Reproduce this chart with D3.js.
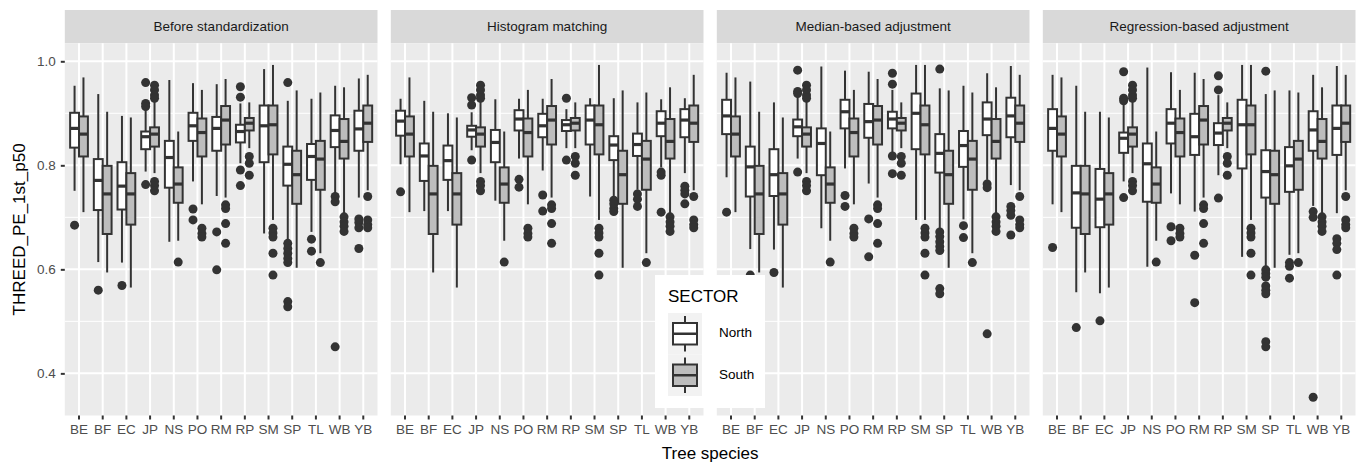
<!DOCTYPE html>
<html>
<head>
<meta charset="utf-8">
<script src="https://cdn.jsdelivr.net/npm/d3@7"></script>
<style>
  body { margin: 0; background: #fff; }
  text { font-family: "Liberation Sans", Arial, sans-serif; }
</style>
</head>
<body>
<div id="chart"></div>
<script>
const species = ["BE", "BF", "EC", "JP", "NS", "PO", "RM", "RP", "SM", "SP", "TL", "WB", "YB"]
const methods = ["Before standardization", "Histogram matching", "Median-based adjustment", "Regression-based adjustment"]
const sectors = ["North", "South"]
const yTicks = [0.4, 0.6, 0.8, 1.0]
const yMinor = [0.5, 0.7, 0.9]

// box stats per species: [lower whisker, Q1, median, Q3, upper whisker]
// South is the reference sector, unchanged in every panel
const southBoxes = [
    [0.710, 0.817, 0.860, 0.894, 0.969], [0.594, 0.668, 0.745, 0.799, 0.903],
    [0.565, 0.686, 0.745, 0.785, 0.892], [0.785, 0.836, 0.860, 0.873, 0.922],
    [0.655, 0.728, 0.764, 0.796, 0.865], [0.725, 0.817, 0.863, 0.890, 0.945],
    [0.738, 0.840, 0.887, 0.914, 0.966], [0.833, 0.867, 0.881, 0.891, 0.921],
    [0.695, 0.821, 0.878, 0.915, 0.993], [0.603, 0.726, 0.782, 0.828, 0.944],
    [0.631, 0.753, 0.812, 0.847, 0.940], [0.708, 0.813, 0.846, 0.889, 0.950],
    [0.752, 0.845, 0.881, 0.915, 0.974]
]
const southOutliers = [
    [], [], [], [0.954, 0.945, 0.935, 0.929, 0.769, 0.761, 0.751], [0.614],
    [0.679, 0.669, 0.662], [0.724, 0.717, 0.688, 0.650], [0.817, 0.804, 0.781],
    [0.679, 0.670, 0.662, 0.631, 0.589], [], [0.613], [0.701, 0.691, 0.683, 0.673],
    [0.740, 0.695, 0.686, 0.680]
]

const northBefore = [
    [0.751, 0.834, 0.871, 0.901, 0.953], [0.614, 0.714, 0.771, 0.812, 0.937],
    [0.613, 0.715, 0.760, 0.806, 0.895], [0.788, 0.831, 0.855, 0.865, 0.906],
    [0.653, 0.757, 0.815, 0.847, 0.964], [0.769, 0.847, 0.876, 0.901, 0.958],
    [0.741, 0.828, 0.871, 0.893, 0.956], [0.804, 0.844, 0.865, 0.878, 0.919],
    [0.669, 0.806, 0.876, 0.915, 0.985], [0.656, 0.761, 0.802, 0.836, 0.924],
    [0.672, 0.772, 0.817, 0.841, 0.928], [0.746, 0.835, 0.867, 0.896, 0.953],
    [0.738, 0.828, 0.870, 0.905, 0.967]
]
const northBeforeOut = [
    [0.685], [0.560], [0.569], [0.959, 0.919, 0.913, 0.763], [], [0.716, 0.695],
    [0.672, 0.599], [0.951, 0.931, 0.791, 0.761], [],
    [0.959, 0.650, 0.640, 0.631, 0.621, 0.613, 0.538, 0.528], [0.658, 0.635],
    [0.740, 0.730, 0.451], [0.697, 0.690, 0.680, 0.640]
]

const northHist = [
    [0.802, 0.857, 0.885, 0.905, 0.928], [0.712, 0.770, 0.818, 0.842, 0.924],
    [0.712, 0.772, 0.809, 0.838, 0.900], [0.829, 0.855, 0.868, 0.876, 0.902],
    [0.732, 0.806, 0.844, 0.868, 0.927], [0.813, 0.867, 0.889, 0.906, 0.928],
    [0.790, 0.854, 0.876, 0.899, 0.928], [0.833, 0.866, 0.878, 0.887, 0.908],
    [0.740, 0.840, 0.887, 0.915, 0.929], [0.740, 0.810, 0.839, 0.856, 0.929],
    [0.753, 0.818, 0.840, 0.861, 0.921], [0.796, 0.856, 0.881, 0.904, 0.927],
    [0.785, 0.854, 0.887, 0.908, 0.929]
]
const northHistOut = [
    [0.749], [], [], [0.930, 0.916, 0.810], [], [0.773, 0.758], [0.743, 0.712],
    [0.929, 0.810], [], [0.733, 0.726, 0.717, 0.711], [0.745, 0.735, 0.721],
    [0.787, 0.781, 0.710], [0.760, 0.752, 0.745, 0.726]
]

const northMedian = [
    [0.777, 0.860, 0.895, 0.926, 0.978], [0.639, 0.740, 0.797, 0.836, 0.961],
    [0.638, 0.741, 0.782, 0.831, 0.921], [0.813, 0.856, 0.874, 0.888, 0.932],
    [0.679, 0.781, 0.842, 0.871, 0.990], [0.794, 0.871, 0.903, 0.926, 0.982],
    [0.765, 0.853, 0.884, 0.918, 0.980], [0.824, 0.871, 0.889, 0.903, 0.945],
    [0.695, 0.831, 0.900, 0.938, 0.993], [0.679, 0.786, 0.823, 0.860, 0.948],
    [0.696, 0.797, 0.838, 0.866, 0.953], [0.772, 0.858, 0.889, 0.921, 0.977],
    [0.762, 0.854, 0.895, 0.930, 0.991]
]
const northMedianOut = [
    [0.710], [0.589], [0.594], [0.983, 0.942, 0.938, 0.787], [], [0.742, 0.721],
    [0.697, 0.624], [0.977, 0.956, 0.818, 0.784], [],
    [0.985, 0.672, 0.663, 0.653, 0.644, 0.636, 0.563, 0.553], [0.684, 0.661],
    [0.764, 0.757, 0.476], [0.721, 0.713, 0.704, 0.666]
]

const northRegression = [
    [0.725, 0.828, 0.871, 0.908, 0.974], [0.556, 0.680, 0.747, 0.799, 0.953],
    [0.554, 0.681, 0.735, 0.793, 0.903], [0.769, 0.824, 0.852, 0.863, 0.916],
    [0.605, 0.730, 0.803, 0.842, 0.988], [0.746, 0.842, 0.881, 0.908, 0.979],
    [0.711, 0.820, 0.855, 0.899, 0.978], [0.781, 0.839, 0.862, 0.881, 0.935],
    [0.624, 0.794, 0.878, 0.926, 0.993], [0.605, 0.738, 0.788, 0.829, 0.937],
    [0.628, 0.749, 0.799, 0.835, 0.944], [0.722, 0.828, 0.868, 0.904, 0.974],
    [0.708, 0.820, 0.871, 0.915, 0.991]
]
const northRegressionOut = [
    [0.642], [0.488], [0.501], [0.980, 0.929, 0.924, 0.738], [], [0.682, 0.655],
    [0.627, 0.536], [0.972, 0.945, 0.737], [],
    [0.981, 0.599, 0.592, 0.585, 0.568, 0.560, 0.553, 0.461, 0.451],
    [0.613, 0.606, 0.583], [0.711, 0.700, 0.354], [0.659, 0.650, 0.638, 0.589]
]

const northByMethod = [northBefore, northHist, northMedian, northRegression]
const northOutByMethod = [northBeforeOut, northHistOut, northMedianOut, northRegressionOut]

// build rows for the library
const rows = []
methods.forEach((m, mi) => {
    species.forEach((sp, si) => {
        rows.push({ method: m, species: sp, sector: "North", stats: northByMethod[mi][si], out: northOutByMethod[mi][si] })
        rows.push({ method: m, species: sp, sector: "South", stats: southBoxes[si], out: southOutliers[si] })
    })
})

const dimensions = {
    width: 1362,
    height: 463,
    panelLeft: 64.8,
    panelRight: 1355.5,
    panelTop: 43.3,
    panelBottom: 415.5,
    stripTop: 10,
}

const fill = { North: "#ffffff", South: "#bdbdbd" }
const ink = "#333333"

const svg = d3.select("#chart").append("svg")
    .attr("width", dimensions.width)
    .attr("height", dimensions.height)

const panelScale = d3.scaleBand()
    .domain(methods)
    .range([dimensions.panelLeft, dimensions.panelRight])
    .paddingInner(0.0408)

const panelW = panelScale.bandwidth()
const panelH = dimensions.panelBottom - dimensions.panelTop

const xScale = d3.scaleBand()
    .domain(species)
    .range([0, panelW])
    .paddingInner(0.25)
    .paddingOuter(0.225)

const sectorScale = d3.scaleBand()
    .domain(sectors)
    .range([0, xScale.bandwidth()])

const yScale = d3.scaleLinear()
    .domain([0.319, 1.0346])
    .range([panelH, 0])

methods.forEach(m => {
    const panel = svg.append("g")
        .attr("transform", `translate(${panelScale(m)},${dimensions.panelTop})`)

    // strip
    panel.append("rect")
        .attr("x", 0).attr("y", dimensions.stripTop - dimensions.panelTop)
        .attr("width", panelW).attr("height", dimensions.panelTop - dimensions.stripTop)
        .attr("fill", "#d9d9d9")
    panel.append("text")
        .attr("x", panelW / 2)
        .attr("y", (dimensions.stripTop - dimensions.panelTop) / 2 + 1)
        .attr("text-anchor", "middle")
        .attr("dominant-baseline", "middle")
        .attr("font-size", 13.5)
        .attr("fill", "#1a1a1a")
        .text(m)

    panel.append("rect")
        .attr("width", panelW).attr("height", panelH)
        .attr("fill", "#ebebeb")

    panel.selectAll(".minor").data(yMinor).join("line")
        .attr("x1", 0).attr("x2", panelW)
        .attr("y1", d => yScale(d)).attr("y2", d => yScale(d))
        .attr("stroke", "#fff").attr("stroke-width", 1)
    panel.selectAll(".major").data(yTicks).join("line")
        .attr("x1", 0).attr("x2", panelW)
        .attr("y1", d => yScale(d)).attr("y2", d => yScale(d))
        .attr("stroke", "#fff").attr("stroke-width", 2)
    panel.selectAll(".vgrid").data(species).join("line")
        .attr("x1", d => xScale(d) + xScale.bandwidth() / 2)
        .attr("x2", d => xScale(d) + xScale.bandwidth() / 2)
        .attr("y1", 0).attr("y2", panelH)
        .attr("stroke", "#fff").attr("stroke-width", 2)

    // x axis
    const xAxis = panel.append("g")
        .attr("transform", `translate(0,${panelH})`)
        .call(d3.axisBottom(xScale).tickSize(4).tickPadding(5))
    xAxis.select(".domain").remove()
    xAxis.selectAll("line").attr("stroke", ink).attr("stroke-width", 2)
    xAxis.selectAll("text").attr("font-size", 13.5).attr("fill", "#4d4d4d")
        .attr("font-family", "Liberation Sans, Arial, sans-serif")

    // boxes
    const boxes = panel.selectAll(".box")
        .data(rows.filter(r => r.method === m))
        .join("g")
        .attr("transform", d => `translate(${xScale(d.species) + sectorScale(d.sector)},0)`)

    const bw = sectorScale.bandwidth()
    boxes.append("line")
        .attr("x1", bw / 2).attr("x2", bw / 2)
        .attr("y1", d => yScale(d.stats[4])).attr("y2", d => yScale(d.stats[3]))
        .attr("stroke", ink).attr("stroke-width", 2)
    boxes.append("line")
        .attr("x1", bw / 2).attr("x2", bw / 2)
        .attr("y1", d => yScale(d.stats[1])).attr("y2", d => yScale(d.stats[0]))
        .attr("stroke", ink).attr("stroke-width", 2)
    boxes.append("rect")
        .attr("x", 0).attr("width", bw)
        .attr("y", d => yScale(d.stats[3]))
        .attr("height", d => yScale(d.stats[1]) - yScale(d.stats[3]))
        .attr("fill", d => fill[d.sector])
        .attr("stroke", ink).attr("stroke-width", 2)
    boxes.append("line")
        .attr("x1", 0).attr("x2", bw)
        .attr("y1", d => yScale(d.stats[2])).attr("y2", d => yScale(d.stats[2]))
        .attr("stroke", ink).attr("stroke-width", 3.2)
    boxes.selectAll("circle")
        .data(d => d.out)
        .join("circle")
        .attr("cx", bw / 2)
        .attr("cy", d => yScale(d))
        .attr("r", 4.5)
        .attr("fill", ink)
})

// y axis on the first panel
const yAxis = svg.append("g")
    .attr("transform", `translate(${dimensions.panelLeft},${dimensions.panelTop})`)
    .call(d3.axisLeft(yScale).tickValues(yTicks).tickFormat(d3.format(".1f")).tickSize(4).tickPadding(5))
yAxis.select(".domain").remove()
yAxis.selectAll("line").attr("stroke", ink).attr("stroke-width", 2)
yAxis.selectAll("text").attr("font-size", 13.5).attr("fill", "#4d4d4d")
    .attr("font-family", "Liberation Sans, Arial, sans-serif")

// axis titles
svg.append("text")
    .attr("x", (dimensions.panelLeft + dimensions.panelRight) / 2)
    .attr("y", 459)
    .attr("text-anchor", "middle")
    .attr("font-size", 17)
    .attr("fill", "#000")
    .text("Tree species")

svg.append("text")
    .attr("transform", `translate(25,${(dimensions.panelTop + dimensions.panelBottom) / 2}) rotate(-90)`)
    .attr("text-anchor", "middle")
    .attr("font-size", 17)
    .attr("fill", "#000")
    .text("THREED_PE_1st_p50")

// legend
const legend = svg.append("g").attr("transform", "translate(655,275)")
legend.append("rect").attr("width", 110).attr("height", 133).attr("fill", "#fff")
legend.append("text")
    .attr("x", 13).attr("y", 27)
    .attr("font-size", 17).attr("fill", "#000")
    .text("SECTOR")
const keys = legend.selectAll(".key").data(sectors).join("g")
    .attr("transform", (d, i) => `translate(13,${38 + i * 41.5})`)
keys.append("rect").attr("width", 34).attr("height", 41.5).attr("fill", "#f2f2f2")
keys.append("line")
    .attr("x1", 17).attr("x2", 17).attr("y1", 3).attr("y2", 38.5)
    .attr("stroke", ink).attr("stroke-width", 2)
keys.append("rect")
    .attr("x", 5).attr("y", 10).attr("width", 24).attr("height", 21.5)
    .attr("fill", d => fill[d]).attr("stroke", ink).attr("stroke-width", 2)
keys.append("line")
    .attr("x1", 5).attr("x2", 29).attr("y1", 20.75).attr("y2", 20.75)
    .attr("stroke", ink).attr("stroke-width", 2.5)
keys.append("text")
    .attr("x", 51).attr("y", 20.75)
    .attr("dominant-baseline", "middle")
    .attr("font-size", 13.5).attr("fill", "#000")
    .text(d => d)
</script>
</body>
</html>
